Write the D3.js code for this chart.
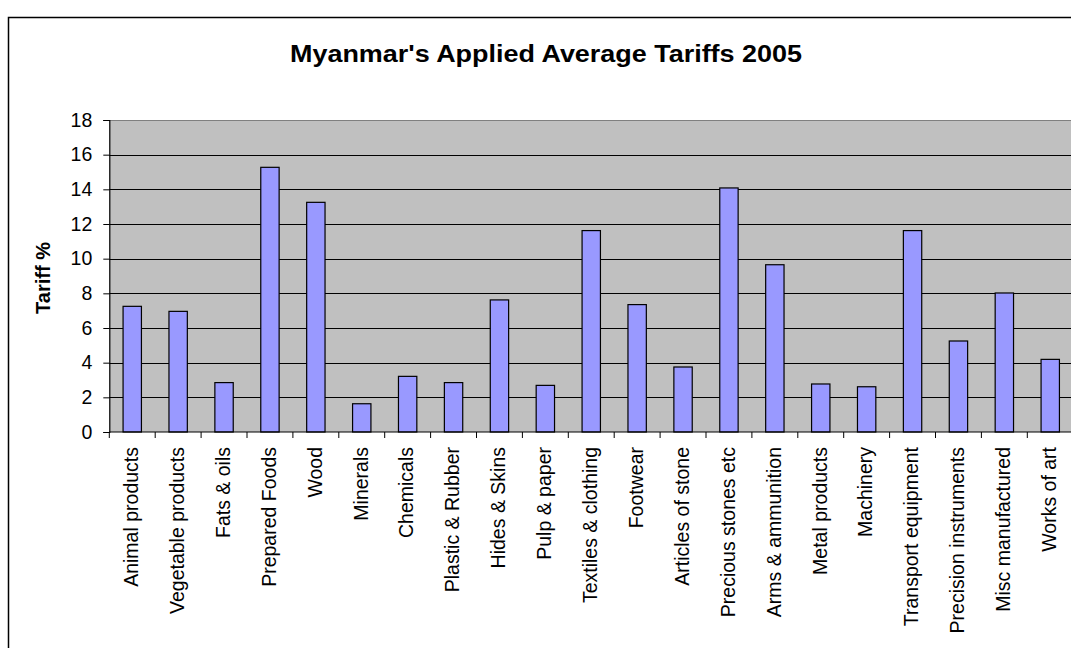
<!DOCTYPE html>
<html>
<head>
<meta charset="utf-8">
<script src="https://cdn.jsdelivr.net/npm/d3@7"></script>
<style>
  html, body { margin: 0; padding: 0; background: #fff; }
  svg { display: block; }
  text { font-family: "Liberation Sans", Arial, sans-serif; fill: #000; }
</style>
</head>
<body>
<svg id="chart" width="1071" height="648"></svg>
<script>
const categories = ["Animal products", "Vegetable products", "Fats & oils", "Prepared Foods", "Wood",
  "Minerals", "Chemicals", "Plastic & Rubber", "Hides & Skins", "Pulp & paper", "Textiles & clothing",
  "Footwear", "Articles of stone", "Precious stones etc", "Arms & ammunition", "Metal products",
  "Machinery", "Transport equipment", "Precision instruments", "Misc manufactured", "Works of art"];
const tariffs = [7.25, 6.96, 2.85, 15.27, 13.25, 1.63, 3.21, 2.85, 7.62, 2.69, 11.62,
  7.35, 3.75, 14.08, 9.65, 2.77, 2.61, 11.62, 5.25, 8.02, 4.19];
const yTicks = [0, 2, 4, 6, 8, 10, 12, 14, 16, 18];
const titleText = "Myanmar's Applied Average Tariffs 2005";
const yTitle = "Tariff %";

const svg = d3.select("#chart");
const plot = { left: 109.3, top: 120, right: 1073.2, bottom: 432 };

// outer frame
svg.append("rect")
  .attr("x", 8.5).attr("y", 17.5)
  .attr("width", 1100).attr("height", 700)
  .attr("fill", "#fff").attr("stroke", "#000").attr("stroke-width", 1.5);

const x = d3.scaleBand().domain(categories)
  .range([plot.left, plot.right]).paddingInner(0.6).paddingOuter(0.3);
const y = d3.scaleLinear().domain([0, 18]).range([plot.bottom, plot.top]);

// plot background
svg.append("rect")
  .attr("x", plot.left).attr("y", plot.top)
  .attr("width", plot.right - plot.left).attr("height", plot.bottom - plot.top)
  .attr("fill", "#C0C0C0");

// top border of plot area
svg.append("line")
  .attr("x1", plot.left).attr("x2", plot.right)
  .attr("y1", plot.top + 0.5).attr("y2", plot.top + 0.5)
  .attr("stroke", "#808080").attr("stroke-width", 1);

// gridlines
svg.append("g").selectAll("line")
  .data(yTicks.filter(d => d > 0 && d < 18))
  .join("line")
  .attr("x1", plot.left).attr("x2", plot.right)
  .attr("y1", d => Math.round(y(d)) + 0.5).attr("y2", d => Math.round(y(d)) + 0.5)
  .attr("stroke", "#000").attr("stroke-width", 1);

// bars
svg.append("g").selectAll("rect")
  .data(categories.map((c, i) => ({ c, v: tariffs[i] })))
  .join("rect")
  .attr("x", d => x(d.c))
  .attr("y", d => y(d.v))
  .attr("width", x.bandwidth())
  .attr("height", d => y(0) - y(d.v))
  .attr("fill", "#9999FF")
  .attr("stroke", "#000").attr("stroke-width", 1.2);

// y axis
const yAxis = d3.axisLeft(y).tickValues(yTicks).tickSize(6).tickPadding(11);
const gy = svg.append("g").attr("transform", `translate(${plot.left},0)`).call(yAxis);
gy.select(".domain").attr("stroke", "#000").attr("stroke-width", 1.2);
gy.selectAll(".tick line").attr("stroke", "#000");
gy.selectAll(".tick text").style("font-size", "19.5px").attr("fill", "#000")
  .style("font-family", '"Liberation Sans", Arial, sans-serif');

// x axis line
svg.append("line")
  .attr("x1", plot.left).attr("x2", plot.right)
  .attr("y1", plot.bottom).attr("y2", plot.bottom)
  .attr("stroke", "#000").attr("stroke-width", 1.2);

// x ticks at category boundaries
const step = x.step();
const boundaries = categories.map((c, i) => x(c) - x.paddingOuter() * step + 0 * i);
svg.append("g").selectAll("line")
  .data(categories.map(c => x(c) + x.bandwidth() / 2 - step / 2))
  .join("line")
  .attr("x1", d => d).attr("x2", d => d)
  .attr("y1", plot.bottom).attr("y2", plot.bottom + 6)
  .attr("stroke", "#000").attr("stroke-width", 1);

// x labels
svg.append("g").selectAll("text")
  .data(categories)
  .join("text")
  .attr("transform", d => `translate(${x(d) + x.bandwidth() / 2 - 1},447) rotate(-90)`)
  .attr("text-anchor", "end")
  .attr("dy", "0.35em")
  .style("font-size", "19.5px")
  .text(d => d);

// title
svg.append("text")
  .attr("x", 546).attr("y", 62)
  .attr("text-anchor", "middle")
  .style("font-size", "23.5px").style("font-weight", "bold")
  .attr("textLength", 512).attr("lengthAdjust", "spacingAndGlyphs")
  .text(titleText);

// y title
svg.append("text")
  .attr("transform", "translate(43,278) rotate(-90)")
  .attr("text-anchor", "middle")
  .attr("dy", "0.35em")
  .style("font-size", "20px").style("font-weight", "bold")
  .text(yTitle);
</script>
</body>
</html>
